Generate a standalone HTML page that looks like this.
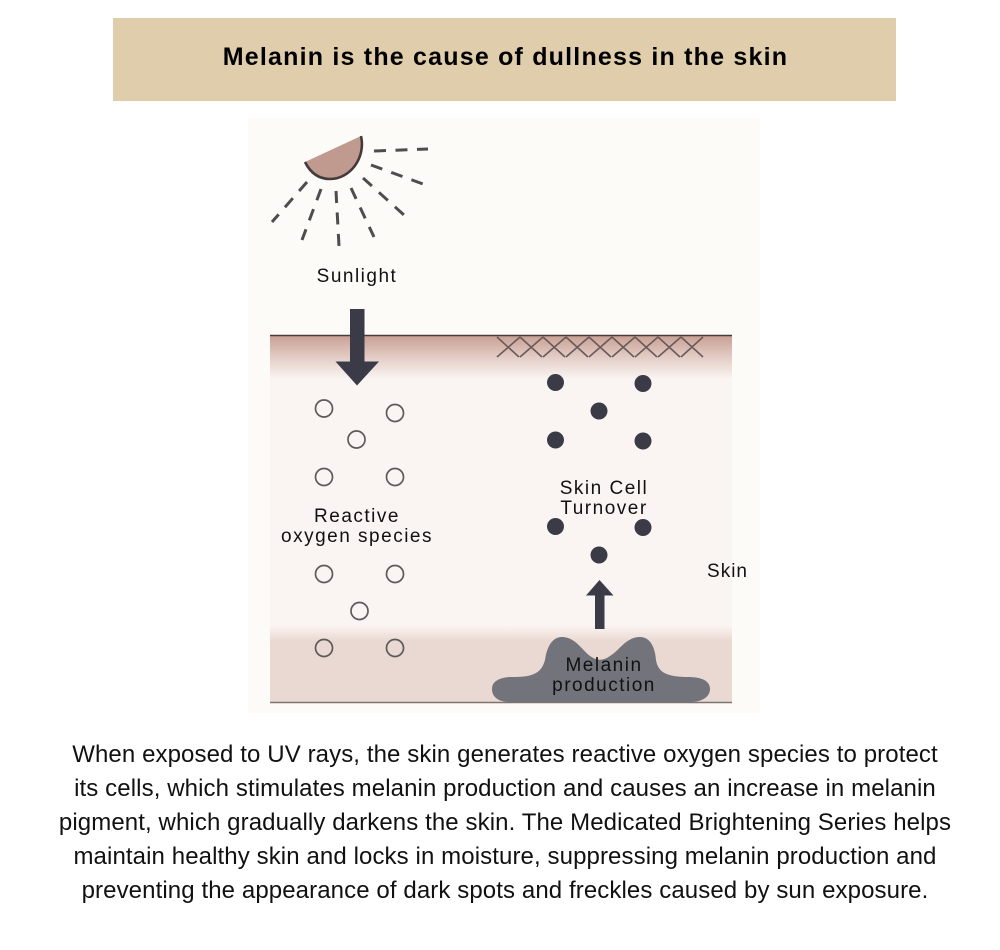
<!DOCTYPE html>
<html>
<head>
<meta charset="utf-8">
<style>
html,body{margin:0;padding:0;background:#fff}
body{width:1000px;height:950px;overflow:hidden;position:relative;font-family:"Liberation Sans",sans-serif}
svg{position:absolute;left:0;top:0}
</style>
</head>
<body>
<svg width="1000" height="950" viewBox="0 0 1000 950" xmlns="http://www.w3.org/2000/svg" font-family="'Liberation Sans',sans-serif">
<defs>
<linearGradient id="top" x1="0" y1="0" x2="0" y2="1">
<stop offset="0" stop-color="#c9a195"/>
<stop offset="0.5" stop-color="#e3cdc6"/>
<stop offset="1" stop-color="#faf5f2"/>
</linearGradient>
<linearGradient id="bot" x1="0" y1="0" x2="0" y2="1">
<stop offset="0" stop-color="#fbf3f0"/>
<stop offset="1" stop-color="#ead9d2"/>
</linearGradient>
</defs>
<rect x="113" y="18" width="783" height="83" fill="#dfcdab"/>
<text x="505.500" y="65" text-anchor="middle" font-size="25" font-weight="700" letter-spacing="1.2" fill="#000">Melanin is the cause of dullness in the skin</text>
<rect x="248" y="118" width="512" height="595" fill="#fcfbf7"/>
<path d="M305 162 L361 136 C366 158 350 179 330 179 C318 179 310 172 305 162Z" fill="#c09a8e"/>
<path d="M305 162 C310 172 318 179 330 179 C350 179 366 158 361 136" fill="none" stroke="#433a3e" stroke-width="2.6"/>
<g stroke="#4d4d4d" stroke-width="3" fill="none" stroke-dasharray="12 9.500">
<line x1="374" y1="151" x2="428" y2="149"/>
<line x1="371" y1="165" x2="423" y2="184"/>
<line x1="363" y1="178" x2="404" y2="215"/>
<line x1="351" y1="188" x2="374" y2="237"/>
<line x1="336" y1="191" x2="339" y2="246"/>
<line x1="321" y1="189" x2="302" y2="240"/>
<line x1="307" y1="182" x2="272" y2="222"/>
</g>
<text x="357" y="282" text-anchor="middle" font-size="19" letter-spacing="1.5" fill="#111">Sunlight</text>
<rect x="270" y="336" width="462" height="367" fill="#faf5f2"/>
<rect x="270" y="336" width="462" height="43" fill="url(#top)"/>
<rect x="270" y="626" width="462" height="15" fill="url(#bot)"/>
<rect x="270" y="641" width="462" height="62" fill="#ead9d2"/>
<line x1="270" y1="335.500" x2="732" y2="335.500" stroke="#4a3b3b" stroke-width="1.500"/>
<line x1="270" y1="702.500" x2="732" y2="702.500" stroke="#7d7471" stroke-width="1.600"/>
<path d="M350 309H364.500V361.500H379L357 385.500L335.500 361.500H350Z" fill="#3a3b46"/>
<g stroke="#6a5a5a" stroke-width="1.600" fill="none">
<path d="M497 337L519 357M520 337L497 357M520 337L542 357M543 337L520 357M543 337L565 357M566 337L543 357M566 337L588 357M589 337L566 357M589 337L611 357M612 337L589 357M612 337L634 357M635 337L612 357M635 337L657 357M658 337L635 357M658 337L680 357M681 337L658 357M681 337L703 357M703 337L681 357"/>
</g>
<g fill="none" stroke="#5f5a5a" stroke-width="1.700">
<circle cx="324" cy="408.500" r="8.500"/>
<circle cx="395" cy="413" r="8.500"/>
<circle cx="356.500" cy="439.500" r="8.500"/>
<circle cx="324" cy="477" r="8.500"/>
<circle cx="395" cy="477" r="8.500"/>
<circle cx="324" cy="574" r="8.500"/>
<circle cx="395" cy="574" r="8.500"/>
<circle cx="359.500" cy="611" r="8.500"/>
<circle cx="324" cy="648" r="8.500"/>
<circle cx="395" cy="648" r="8.500"/>
</g>
<g fill="#3a3b46">
<circle cx="555.500" cy="382.500" r="8.500"/>
<circle cx="643" cy="383.500" r="8.500"/>
<circle cx="599" cy="411" r="8.500"/>
<circle cx="555.500" cy="440" r="8.500"/>
<circle cx="643" cy="441" r="8.500"/>
<circle cx="555.500" cy="526.500" r="8.500"/>
<circle cx="643" cy="527.500" r="8.500"/>
<circle cx="599" cy="555" r="8.500"/>
</g>
<path d="M595 629V595.500H586L599.500 580L613.500 595.500H604.500V629Z" fill="#3a3b46"/>
<path d="M510 702C497 702 492 696 492 689C492 681 500 677 512 677C530 677 541 675 545 660C547 647 552 637 562 637C575 637 582 650 590 656C597 661 603 661 610 656C620 650 626 637 640 637C650 637 655 647 656 660C658 673 668 677 688 677C702 677 710 681 710 689C710 697 702 702 690 702Z" fill="#73737b"/>
<g font-size="19" letter-spacing="1.500" fill="#111" text-anchor="middle">
<text x="357" y="522">Reactive</text>
<text x="357" y="542">oxygen species</text>
<text x="604" y="494">Skin Cell</text>
<text x="604" y="514">Turnover</text>
<text x="727.500" y="577" letter-spacing="1">Skin</text>
<text x="604" y="671">Melanin</text>
<text x="604" y="691">production</text>
</g>
<g font-size="24" fill="#111" text-anchor="middle" letter-spacing="0.1">
<text x="505" y="762">When exposed to UV rays, the skin generates reactive oxygen species to protect</text>
<text x="505" y="796">its cells, which stimulates melanin production and causes an increase in melanin</text>
<text x="505" y="830">pigment, which gradually darkens the skin. The Medicated Brightening Series helps</text>
<text x="505" y="864">maintain healthy skin and locks in moisture, suppressing melanin production and</text>
<text x="505" y="898">preventing the appearance of dark spots and freckles caused by sun exposure.</text>
</g>
</svg>
</body>
</html>
